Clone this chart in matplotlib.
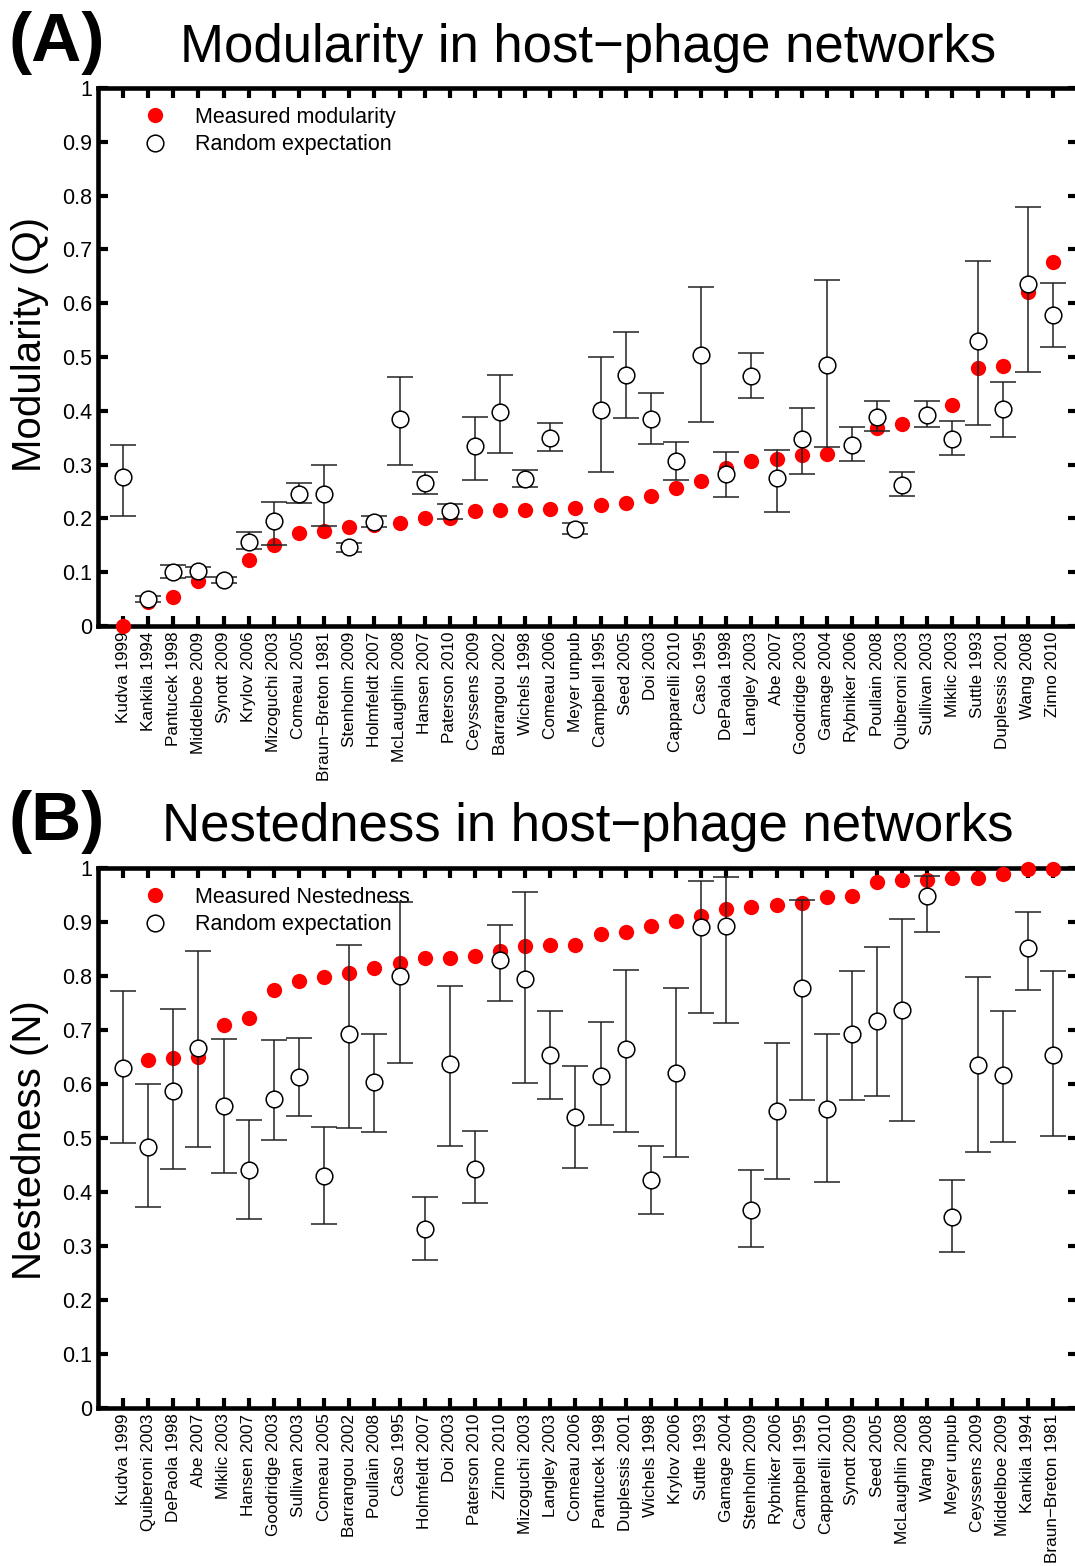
import matplotlib
matplotlib.use('Agg')
import matplotlib.pyplot as plt
from matplotlib.lines import Line2D
import numpy as np

plt.rcParams['font.family'] = ['Liberation Sans', 'DejaVu Sans']

# ---------------- Panel A data ----------------
labels_A = ["Kudva 1999", "Kankila 1994", "Pantucek 1998", "Middelboe 2009", "Synott 2009",
            "Krylov 2006", "Mizoguchi 2003", "Comeau 2005", "Braun\u2212Breton 1981", "Stenholm 2009",
            "Holmfeldt 2007", "McLaughlin 2008", "Hansen 2007", "Paterson 2010", "Ceyssens 2009",
            "Barrangou 2002", "Wichels 1998", "Comeau 2006", "Meyer unpub", "Campbell 1995",
            "Seed 2005", "Doi 2003", "Capparelli 2010", "Caso 1995", "DePaola 1998",
            "Langley 2003", "Abe 2007", "Goodridge 2003", "Gamage 2004", "Rybniker 2006",
            "Poullain 2008", "Quiberoni 2003", "Sullivan 2003", "Miklic 2003", "Suttle 1993",
            "Duplessis 2001", "Wang 2008", "Zinno 2010"]
mod_measured = [0.0, 0.045, 0.053, 0.083, 0.085, 0.123, 0.151, 0.173, 0.176, 0.184,
                0.187, 0.191, 0.201, 0.201, 0.214, 0.215, 0.216, 0.217, 0.220, 0.225,
                0.229, 0.241, 0.257, 0.270, 0.294, 0.306, 0.310, 0.317, 0.320, 0.334,
                0.368, 0.376, 0.393, 0.411, 0.480, 0.483, 0.621, 0.677]
mod_random = [0.277, 0.051, 0.100, 0.102, 0.086, 0.157, 0.195, 0.246, 0.246, 0.146,
              0.193, 0.385, 0.266, 0.213, 0.334, 0.397, 0.274, 0.350, 0.181, 0.401,
              0.466, 0.385, 0.306, 0.503, 0.282, 0.464, 0.275, 0.348, 0.485, 0.336,
              0.389, 0.263, 0.393, 0.348, 0.530, 0.403, 0.636, 0.578]
mod_upper = [0.337, 0.055, 0.113, 0.110, 0.091, 0.174, 0.231, 0.265, 0.300, 0.155,
             0.205, 0.463, 0.287, 0.227, 0.389, 0.467, 0.290, 0.377, 0.191, 0.500,
             0.546, 0.433, 0.342, 0.631, 0.323, 0.508, 0.327, 0.405, 0.643, 0.369,
             0.419, 0.287, 0.418, 0.381, 0.678, 0.454, 0.778, 0.637]
mod_lower = [0.205, 0.045, 0.090, 0.092, 0.079, 0.144, 0.150, 0.229, 0.186, 0.138,
             0.184, 0.299, 0.246, 0.199, 0.272, 0.322, 0.259, 0.326, 0.171, 0.286,
             0.387, 0.338, 0.272, 0.380, 0.239, 0.423, 0.211, 0.283, 0.333, 0.306,
             0.363, 0.241, 0.369, 0.317, 0.373, 0.351, 0.472, 0.518]

# ---------------- Panel B data ----------------
labels_B = ["Kudva 1999", "Quiberoni 2003", "DePaola 1998", "Abe 2007", "Miklic 2003",
            "Hansen 2007", "Goodridge 2003", "Sullivan 2003", "Comeau 2005", "Barrangou 2002",
            "Poullain 2008", "Caso 1995", "Holmfeldt 2007", "Doi 2003", "Paterson 2010",
            "Zinno 2010", "Mizoguchi 2003", "Langley 2003", "Comeau 2006", "Pantucek 1998",
            "Duplessis 2001", "Wichels 1998", "Krylov 2006", "Suttle 1993", "Gamage 2004",
            "Stenholm 2009", "Rybniker 2006", "Campbell 1995", "Capparelli 2010", "Synott 2009",
            "Seed 2005", "McLaughlin 2008", "Wang 2008", "Meyer unpub", "Ceyssens 2009",
            "Middelboe 2009", "Kankila 1994", "Braun\u2212Breton 1981"]
nest_measured = [0.629, 0.645, 0.648, 0.650, 0.709, 0.722, 0.775, 0.791, 0.799, 0.806,
                 0.814, 0.825, 0.834, 0.834, 0.837, 0.846, 0.855, 0.858, 0.858, 0.877,
                 0.882, 0.892, 0.901, 0.911, 0.924, 0.928, 0.931, 0.936, 0.946, 0.948,
                 0.975, 0.978, 0.978, 0.981, 0.981, 0.988, 0.999, 0.999]
nest_random = [0.629, 0.484, 0.587, 0.666, 0.560, 0.440, 0.573, 0.613, 0.429, 0.692,
               0.604, 0.800, 0.332, 0.637, 0.443, 0.829, 0.794, 0.653, 0.539, 0.615,
               0.665, 0.423, 0.621, 0.891, 0.893, 0.367, 0.550, 0.777, 0.553, 0.693,
               0.716, 0.737, 0.948, 0.354, 0.635, 0.617, 0.851, 0.653]
nest_upper = [0.772, 0.600, 0.738, 0.846, 0.683, 0.534, 0.682, 0.685, 0.521, 0.857,
              0.693, 0.937, 0.390, 0.782, 0.513, 0.895, 0.955, 0.735, 0.634, 0.714,
              0.811, 0.486, 0.777, 0.976, 0.983, 0.440, 0.676, 0.940, 0.692, 0.809,
              0.853, 0.905, 0.985, 0.422, 0.798, 0.735, 0.919, 0.809]
nest_lower = [0.491, 0.373, 0.442, 0.484, 0.435, 0.350, 0.497, 0.540, 0.340, 0.518,
              0.512, 0.639, 0.275, 0.486, 0.380, 0.753, 0.602, 0.573, 0.444, 0.525,
              0.511, 0.360, 0.464, 0.731, 0.713, 0.298, 0.425, 0.570, 0.418, 0.570,
              0.577, 0.532, 0.881, 0.288, 0.475, 0.493, 0.774, 0.503]

yticks = [0, 0.1, 0.2, 0.3, 0.4, 0.5, 0.6, 0.7, 0.8, 0.9, 1]

W, H = 1075, 1566
fig = plt.figure(figsize=(W / 100, H / 100), dpi=100)


def panel(rect, labels, measured, rand, upper, lower, ylabel, leg_label, ylab_y):
    ax = fig.add_axes(rect)
    x = np.arange(len(labels))
    rand = np.array(rand)
    yerr = [rand - np.array(lower), np.array(upper) - rand]
    ax.plot(x, measured, 'o', color='#ff0000', markersize=11, mec='none',
            zorder=5, clip_on=False)
    ax.errorbar(x, rand, yerr=yerr, fmt='o', color='#222222', ecolor='#222222',
                elinewidth=1.1, capsize=9.5, capthick=1.1, markersize=12,
                mfc='white', mec='black', mew=1.1, zorder=6, clip_on=False)
    ax.set_xlim(-1, len(labels))
    ax.set_ylim(0, 1)
    ax.set_xticks(x)
    ax.set_xticklabels(labels, rotation=90, fontsize=12.3)
    ax.set_yticks(yticks)
    ax.set_yticklabels(['%g' % v for v in yticks], fontsize=15.5)
    ax.tick_params(axis='both', direction='in', length=7, width=3,
                   top=True, right=True, labeltop=False, labelright=False)
    ax.tick_params(axis='y', pad=4)
    ax.tick_params(axis='x', pad=4)
    for s in ax.spines.values():
        s.set_linewidth(3.3)
    fig.text(30 / W, 1 - ylab_y / H, ylabel, fontsize=29, rotation=90,
             ha='center', va='center')
    handles = [
        Line2D([], [], ls='none', marker='o', color='#ff0000', mec='none', markersize=11),
        Line2D([], [], ls='none', marker='o', mfc='white', mec='black', mew=1.1, markersize=12),
    ]
    ax.legend(handles, [leg_label, 'Random expectation'], loc='upper left',
              bbox_to_anchor=(0.047, 0.965), frameon=False,
              fontsize=15.5, handlelength=1.0, handletextpad=1.36,
              borderaxespad=0, borderpad=0, labelspacing=0.3, numpoints=1)
    return ax


left = 97.9 / W
width = 980.2 / W
axA = panel([left, 1 - 626 / H, width, 538 / H], labels_A, mod_measured, mod_random,
            mod_upper, mod_lower, 'Modularity (Q)', 'Measured modularity', 345)
axB = panel([left, 1 - 1408 / H, width, 540 / H], labels_B, nest_measured, nest_random,
            nest_upper, nest_lower, 'Nestedness (N)', 'Measured Nestedness', 1140)

fig.text(588 / W, 1 - 62 / H, 'Modularity in host\u2212phage networks', fontsize=38,
         ha='center', va='baseline')
fig.text(588 / W, 1 - 841 / H, 'Nestedness in host\u2212phage networks', fontsize=38,
         ha='center', va='baseline')
fig.text(9 / W, 1 - 61 / H, '(A)', fontsize=50, fontweight='bold', ha='left', va='baseline')
fig.text(9 / W, 1 - 840 / H, '(B)', fontsize=50, fontweight='bold', ha='left', va='baseline')

fig.savefig('out.png', dpi=100)
